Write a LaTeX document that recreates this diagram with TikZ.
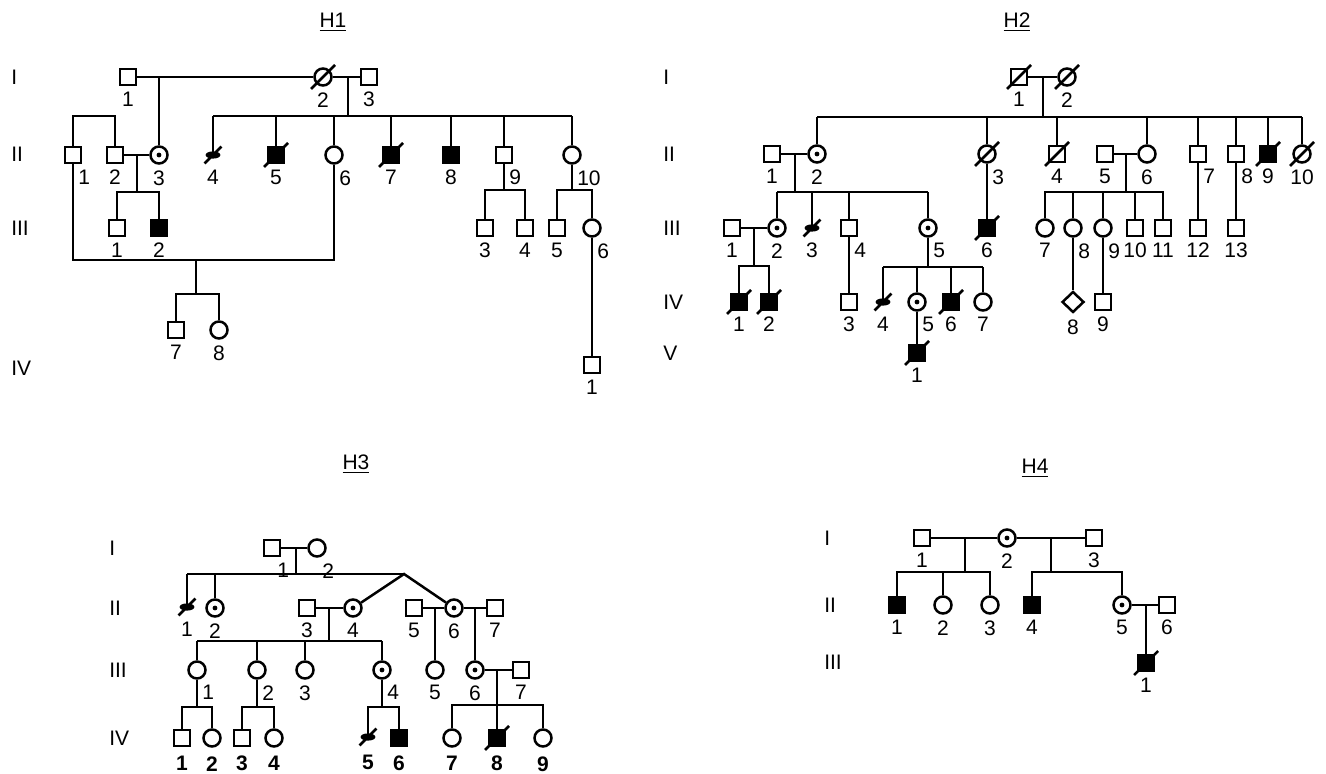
\documentclass[tikz,border=0pt]{standalone}
\usepackage{fontspec}
\setmainfont{Liberation Sans}
\usetikzlibrary{shapes.geometric}

\tikzset{
  ind/.style={draw, inner sep=0pt},
  male/.style={ind, rectangle, minimum size=8pt},
  female/.style={ind, circle, minimum size=8.5pt},
  unk/.style={ind, diamond, minimum width=11pt, minimum height=10.5pt},
  aff/.style={fill=black},
  carrier/.style={female, path picture={\fill (path picture bounding box.center) circle (1.2pt);}},
  dead/.style={append after command={([shift={(-#1,-#1)}]\tikzlastnode.center) edge ([shift={(#1,#1)}]\tikzlastnode.center)}},
  dead/.default=6pt,
  sb/.style={circle, inner sep=0pt, minimum size=8pt,
    path picture={\fill[shift={(path picture bounding box.center)}, rotate=45] (0,0) ellipse (3.7pt and 1.8pt);},
    dead=4.2pt},
  lbl/.style={font=\fontsize{10.5}{12}\selectfont, inner sep=0pt},
  lb/.style={label={[lbl]below:#1}},
  lr/.style={label={[lbl, anchor=north west, xshift=2pt]below:#1}},
  lbw/.style={label={[lbl, font=\fontsize{10.5}{12}\selectfont\bfseries, yshift=-1.5pt]below:#1}},
  gen/.style={lbl, anchor=west},
  ttl/.style={lbl, font=\fontsize{10.5}{12}\selectfont}
}

\begin{document}
\begin{tikzpicture}[x=0.5pt, y=-0.5pt, line width=1.25pt, label distance=2.2pt]
  \useasboundingbox (0,0) rectangle (1326,774);

  %% H1
  \node[ttl] (h1t) at (333,22) {\underline{H1}};
  \node[gen] (h1g1) at (10,77) {I};
  \node[gen] (h1g2) at (10,154) {II};
  \node[gen] (h1g3) at (10,228) {III};
  \node[gen] (h1g4) at (10,368) {IV};

  \node[male, lb=1] (h1-1-1) at (128,77) {};
  \node[female, dead, lb=2] (h1-1-2) at (323,77) {};
  \node[male, lb=3] (h1-1-3) at (369,77) {};

  \node[male, lr=1] (h1-2-1) at (73,155) {};
  \node[male, lb=2] (h1-2-2) at (115,155) {};
  \node[carrier, lb=3] (h1-2-3) at (159,155) {};
  \node[sb, lb=4] (h1-2-4) at (213,155) {};
  \node[male, aff, dead, lb=5] (h1-2-5) at (276,155) {};
  \node[female, lr=6] (h1-2-6) at (334,155) {};
  \node[male, aff, dead, lb=7] (h1-2-7) at (391,155) {};
  \node[male, aff, lb=8] (h1-2-8) at (451,155) {};
  \node[male, lr=9] (h1-2-9) at (504,155) {};
  \node[female, lr=10] (h1-2-10) at (572,155) {};

  \node[male, lb=1] (h1-3-1) at (117,228) {};
  \node[male, aff, lb=2] (h1-3-2) at (159,228) {};
  \node[male, lb=3] (h1-3-3) at (485,228) {};
  \node[male, lb=4] (h1-3-4) at (525,228) {};
  \node[male, lb=5] (h1-3-5) at (557,228) {};
  \node[female, lr=6] (h1-3-6) at (592,228) {};

  \node[male, lb=7] (h1-4-7) at (176,330) {};
  \node[female, lb=8] (h1-4-8) at (219,330) {};
  \node[male, lb=1] (h1-4-1) at (592,365) {};

  \coordinate (h1s1) at (348,116);
  \coordinate (h1s3) at (137,192);
  \coordinate (h1s4) at (196,260);
  \coordinate (h1s5) at (196,294);
  \coordinate (h1s6) at (504,190);
  \coordinate (h1s7) at (572,190);

  \draw (h1-1-1) -- (h1-1-2) -- (h1-1-3);
  \draw (h1-2-3 |- h1-1-1) -- (h1-2-3);
  \draw (h1s1 |- h1-1-2) -- (h1s1);
  \draw (h1-2-4 |- h1s1) -- (h1-2-10 |- h1s1);
  \draw (h1-2-4.center) -- (h1-2-4 |- h1s1);
  \foreach \c in {5,...,10}
    \draw (h1-2-\c) -- (h1-2-\c |- h1s1);
  \draw (h1-2-1) |- (h1-2-2 |- h1s1) -- (h1-2-2);
  \draw (h1-2-2) -- (h1-2-3);
  \draw (h1s3 |- h1-2-2) -- (h1s3);
  \draw (h1-3-1) |- (h1s3) -| (h1-3-2);
  \draw (h1-2-1) |- (h1s4) -| (h1-2-6);
  \draw (h1s4) -- (h1s5);
  \draw (h1-4-7) |- (h1s5) -| (h1-4-8);
  \draw (h1-2-9) -- (h1s6);
  \draw (h1-3-3) |- (h1s6) -| (h1-3-4);
  \draw (h1-2-10) -- (h1s7);
  \draw (h1-3-5) |- (h1s7) -| (h1-3-6);
  \draw (h1-3-6) -- (h1-4-1);

  %% H2
  \node[ttl] (h2t) at (1017,22) {\underline{H2}};
  \node[gen] (h2g1) at (662,77) {I};
  \node[gen] (h2g2) at (662,154) {II};
  \node[gen] (h2g3) at (662,228) {III};
  \node[gen] (h2g4) at (662,302) {IV};
  \node[gen] (h2g5) at (662,353) {V};

  \node[male, dead, lb=1] (h2-1-1) at (1019,77) {};
  \node[female, dead, lb=2] (h2-1-2) at (1067,77) {};

  \node[male, lb=1] (h2-2-1) at (772,154) {};
  \node[carrier, lb=2] (h2-2-2) at (817,154) {};
  \node[female, dead, lr=3] (h2-2-3) at (987,154) {};
  \node[male, dead, lb=4] (h2-2-4) at (1057,154) {};
  \node[male, lb=5] (h2-2-5) at (1105,154) {};
  \node[female, lb=6] (h2-2-6) at (1147,154) {};
  \node[male, lr=7] (h2-2-7) at (1198,154) {};
  \node[male, lr=8] (h2-2-8) at (1236,154) {};
  \node[male, aff, dead, lb=9] (h2-2-9) at (1268,154) {};
  \node[female, dead, lb=10] (h2-2-10) at (1302,154) {};

  \node[male, lb=1] (h2-3-1) at (732,228) {};
  \node[carrier, lb=2] (h2-3-2) at (777,228) {};
  \node[sb, lb=3] (h2-3-3) at (812,228) {};
  \node[male, lr=4] (h2-3-4) at (849,228) {};
  \node[carrier, lr=5] (h2-3-5) at (928,228) {};
  \node[male, aff, dead, lb=6] (h2-3-6) at (987,228) {};
  \node[female, lb=7] (h2-3-7) at (1045,228) {};
  \node[female, lr=8] (h2-3-8) at (1073,228) {};
  \node[female, lr=9] (h2-3-9) at (1103,228) {};
  \node[male, lb=10] (h2-3-10) at (1135,228) {};
  \node[male, lb=11] (h2-3-11) at (1163,228) {};
  \node[male, lb=12] (h2-3-12) at (1198,228) {};
  \node[male, lb=13] (h2-3-13) at (1236,228) {};

  \node[male, aff, dead, lb=1] (h2-4-1) at (739,302) {};
  \node[male, aff, dead, lb=2] (h2-4-2) at (769,302) {};
  \node[male, lb=3] (h2-4-3) at (849,302) {};
  \node[sb, lb=4] (h2-4-4) at (883,302) {};
  \node[carrier, lr=5] (h2-4-5) at (917,302) {};
  \node[male, aff, dead, lb=6] (h2-4-6) at (951,302) {};
  \node[female, lb=7] (h2-4-7) at (983,302) {};
  \node[unk, lb=8] (h2-4-8) at (1073,302) {};
  \node[male, lb=9] (h2-4-9) at (1103,302) {};

  \node[male, aff, dead, lb=1] (h2-5-1) at (917,353) {};

  \coordinate (h2s1) at (1043,117);
  \coordinate (h2s2) at (795,192);
  \coordinate (h2s3) at (1126,192);
  \coordinate (h2s4) at (754,266);
  \coordinate (h2s5) at (928,267);

  \draw (h2-1-1) -- (h2-1-2);
  \draw (h2s1 |- h2-1-1) -- (h2s1);
  \draw (h2-2-2 |- h2s1) -- (h2-2-10 |- h2s1);
  \foreach \c in {2,3,4,6,7,8,9,10}
    \draw (h2-2-\c) -- (h2-2-\c |- h2s1);
  \draw (h2-2-1) -- (h2-2-2);
  \draw (h2s2 |- h2-2-1) -- (h2s2);
  \draw (h2-3-2 |- h2s2) -- (h2-3-5 |- h2s2);
  \foreach \c in {2,4,5}
    \draw (h2-3-\c) -- (h2-3-\c |- h2s2);
  \draw (h2-3-3.center) -- (h2-3-3 |- h2s2);
  \draw (h2-2-3) -- (h2-3-6);
  \draw (h2-2-5) -- (h2-2-6);
  \draw (h2s3 |- h2-2-5) -- (h2s3);
  \draw (h2-3-7) |- (h2s3) -| (h2-3-11);
  \foreach \c in {8,9,10}
    \draw (h2-3-\c) -- (h2-3-\c |- h2s3);
  \draw (h2-2-7) -- (h2-3-12);
  \draw (h2-2-8) -- (h2-3-13);
  \draw (h2-3-1) -- (h2-3-2);
  \draw (h2s4 |- h2-3-1) -- (h2s4);
  \draw (h2-4-1) |- (h2s4) -| (h2-4-2);
  \draw (h2-3-4) -- (h2-4-3);
  \draw (h2-3-5) -- (h2s5);
  \draw (h2-4-4 |- h2s5) -- (h2-4-7 |- h2s5);
  \draw (h2-4-4.center) -- (h2-4-4 |- h2s5);
  \foreach \c in {5,6,7}
    \draw (h2-4-\c) -- (h2-4-\c |- h2s5);
  \draw (h2-4-5) -- (h2-5-1);
  \draw (h2-3-8) -- (h2-4-8);
  \draw (h2-3-9) -- (h2-4-9);

  %% H3
  \node[ttl] (h3t) at (356,464) {\underline{H3}};
  \node[gen] (h3g1) at (108,548) {I};
  \node[gen] (h3g2) at (108,608) {II};
  \node[gen] (h3g3) at (108,670) {III};
  \node[gen] (h3g4) at (108,738) {IV};

  \node[male, lr=1] (h3-1-1) at (272,548) {};
  \node[female, lr=2] (h3-1-2) at (317,548) {};

  \node[sb, lb=1] (h3-2-1) at (187,607) {};
  \node[carrier, lb=2] (h3-2-2) at (215,608) {};
  \node[male, lb=3] (h3-2-3) at (307,608) {};
  \node[carrier, lb=4] (h3-2-4) at (353,608) {};
  \node[male, lb=5] (h3-2-5) at (414,608) {};
  \node[carrier, lb=6] (h3-2-6) at (454,608) {};
  \node[male, lb=7] (h3-2-7) at (495,608) {};

  \node[female, lr=1] (h3-3-1) at (197,670) {};
  \node[female, lr=2] (h3-3-2) at (257,670) {};
  \node[female, lb=3] (h3-3-3) at (305,670) {};
  \node[carrier, lr=4] (h3-3-4) at (382,670) {};
  \node[female, lb=5] (h3-3-5) at (435,670) {};
  \node[carrier, lb=6] (h3-3-6) at (475,670) {};
  \node[male, lb=7] (h3-3-7) at (521,670) {};

  \node[male, lbw=1] (h3-4-1) at (182,738) {};
  \node[female, lbw=2] (h3-4-2) at (212,738) {};
  \node[male, lbw=3] (h3-4-3) at (242,738) {};
  \node[female, lbw=4] (h3-4-4) at (274,738) {};
  \node[sb, lbw=5] (h3-4-5) at (368,737) {};
  \node[male, aff, lbw=6] (h3-4-6) at (399,738) {};
  \node[female, lbw=7] (h3-4-7) at (452,738) {};
  \node[male, aff, dead, lbw=8] (h3-4-8) at (497,738) {};
  \node[female, lbw=9] (h3-4-9) at (543,738) {};

  \coordinate (h3s1) at (296,574);
  \coordinate (h3tw) at (404,574);
  \coordinate (h3s2) at (329,641);
  \coordinate (h3s3) at (497,705);
  \coordinate (h3s4) at (197,707);
  \coordinate (h3s5) at (257,707);
  \coordinate (h3s6) at (382,707);

  \draw (h3-1-1) -- (h3-1-2);
  \draw (h3s1 |- h3-1-1) -- (h3s1);
  \draw (h3-2-1 |- h3s1) -- (h3tw);
  \draw (h3-2-1.center) -- (h3-2-1 |- h3s1);
  \draw (h3-2-2) -- (h3-2-2 |- h3s1);
  \draw (h3-2-4) -- (h3tw) -- (h3-2-6);
  \draw (h3-2-3) -- (h3-2-4);
  \draw (h3s2 |- h3-2-3) -- (h3s2);
  \draw (h3-3-1 |- h3s2) -- (h3-3-4 |- h3s2);
  \foreach \c in {1,...,4}
    \draw (h3-3-\c) -- (h3-3-\c |- h3s2);
  \draw (h3-2-5) -- (h3-2-6) -- (h3-2-7);
  \draw (h3-3-5 |- h3-2-5) -- (h3-3-5);
  \draw (h3-3-6 |- h3-2-6) -- (h3-3-6);
  \draw (h3-3-6) -- (h3-3-7);
  \draw (h3s3 |- h3-3-6) -- (h3s3);
  \draw (h3-4-7) |- (h3s3) -| (h3-4-9);
  \draw (h3s3) -- (h3-4-8);
  \draw (h3-3-1) -- (h3s4);
  \draw (h3-4-1) |- (h3s4) -| (h3-4-2);
  \draw (h3-3-2) -- (h3s5);
  \draw (h3-4-3) |- (h3s5) -| (h3-4-4);
  \draw (h3-3-4) -- (h3s6);
  \draw (h3-4-5.center) |- (h3s6) -| (h3-4-6);

  %% H4
  \node[ttl] (h4t) at (1035,468) {\underline{H4}};
  \node[gen] (h4g1) at (823,538) {I};
  \node[gen] (h4g2) at (823,605) {II};
  \node[gen] (h4g3) at (823,662) {III};

  \node[male, lb=1] (h4-1-1) at (922,538) {};
  \node[carrier, lb=2] (h4-1-2) at (1007,538) {};
  \node[male, lb=3] (h4-1-3) at (1094,538) {};

  \node[male, aff, lb=1] (h4-2-1) at (897,605) {};
  \node[female, lb=2] (h4-2-2) at (943,605) {};
  \node[female, lb=3] (h4-2-3) at (990,605) {};
  \node[male, aff, lb=4] (h4-2-4) at (1032,605) {};
  \node[carrier, lb=5] (h4-2-5) at (1122,605) {};
  \node[male, lb=6] (h4-2-6) at (1167,605) {};

  \node[male, aff, dead, lb=1] (h4-3-1) at (1146,663) {};

  \coordinate (h4s1) at (965,572);
  \coordinate (h4s2) at (1051,572);

  \draw (h4-1-1) -- (h4-1-2) -- (h4-1-3);
  \draw (h4s1 |- h4-1-1) -- (h4s1);
  \draw (h4s2 |- h4-1-1) -- (h4s2);
  \draw (h4-2-1) |- (h4s1) -| (h4-2-3);
  \draw (h4-2-2) -- (h4-2-2 |- h4s1);
  \draw (h4-2-4) |- (h4s2) -| (h4-2-5);
  \draw (h4-2-5) -- (h4-2-6);
  \draw (h4-3-1 |- h4-2-5) -- (h4-3-1);

\end{tikzpicture}
\end{document}
